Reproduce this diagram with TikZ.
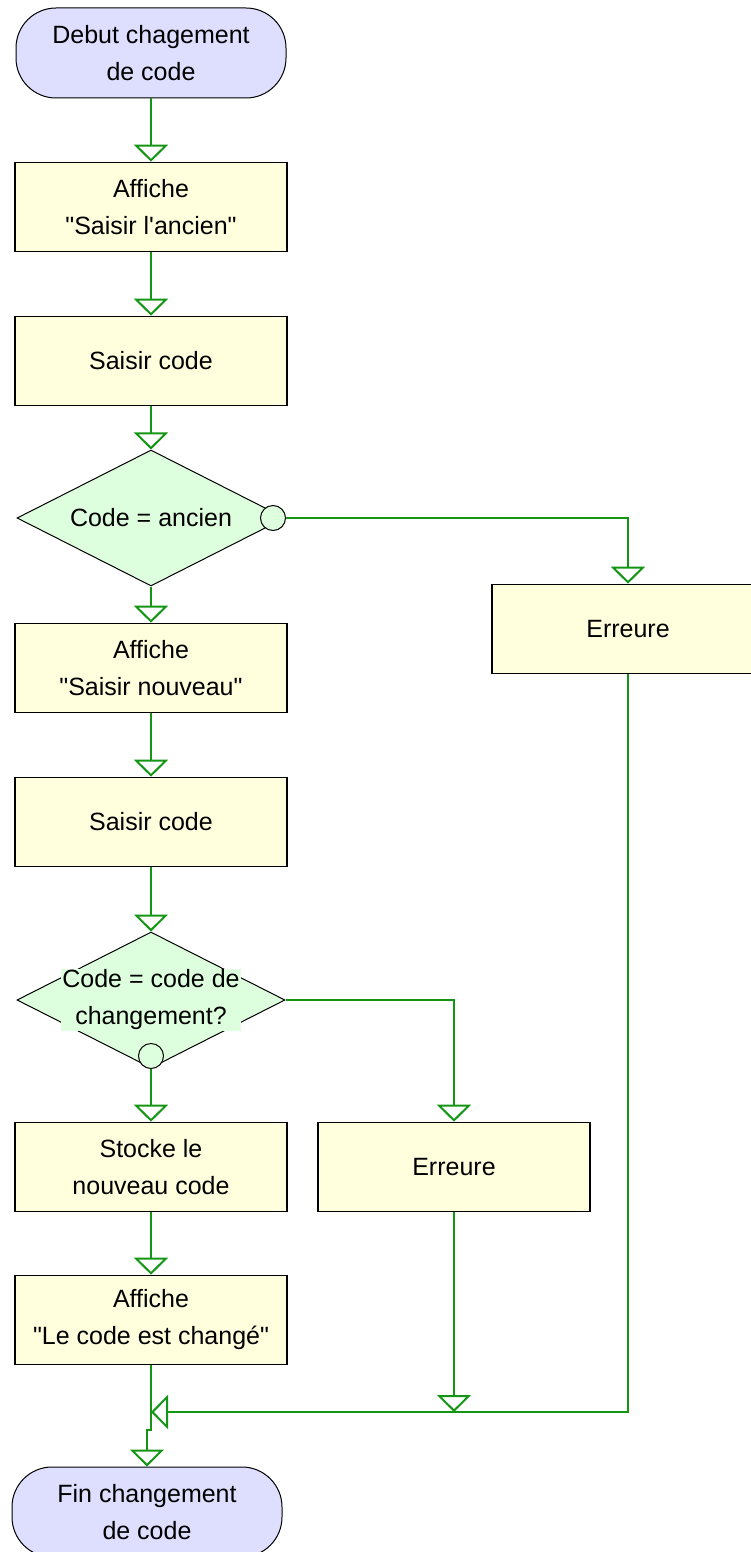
\documentclass[tikz,border=0pt]{standalone}
\usepackage{fontspec}
\newfontfamily\chartfont{Liberation Sans}
\usepackage{xcolor}
\usetikzlibrary{shapes.geometric,arrows.meta}
\definecolor{termfill}{RGB}{222,222,255}
\definecolor{procfill}{RGB}{255,255,222}
\definecolor{decfill}{RGB}{222,255,222}
\definecolor{flowgreen}{RGB}{20,150,20}
\tikzset{
  term/.style={rectangle,rounded corners=40pt,draw=black,line width=1pt,fill=termfill,minimum width=270pt,minimum height=90pt,align=center,inner sep=0pt},
  proc/.style={rectangle,draw=black,line width=1.6pt,fill=procfill,minimum width=272pt,minimum height=89pt,align=center,inner sep=0pt},
  decision/.style={diamond,draw=black,line width=1pt,fill=decfill,minimum width=268pt,minimum height=136pt,inner sep=0pt},
  dtext/.style={fill=decfill,inner sep=1pt,align=center},
  knob/.style={circle,draw=black,line width=1pt,fill=decfill,minimum size=25pt,inner sep=0pt},
  link/.style={draw=flowgreen,line width=2pt},
  flow/.style={link,-{Triangle[open,width=34pt,length=17pt]}}
}

\begin{document}
\begin{tikzpicture}[x=1pt,y=-1pt,every node/.style={font=\chartfont\fontsize{25}{37}\selectfont}]
  \useasboundingbox (0,0) rectangle (751,1552);
  \coordinate (m) at (151,1412);

  \node[term] (start) at (151,53) {Debut chagement\\de code};
  \node[proc] (a1) at (151,207) {Affiche\\"Saisir l'ancien"};
  \node[proc] (a2) at (151,361) {Saisir code};
  \node[decision] (d1) at (151,518) {};
  \node[dtext] (d1t) at (d1) {Code = ancien};
  \node[knob] (k1) at ([xshift=-12.5pt]d1.east) {};
  \node[proc] (a3) at (151,668) {Affiche\\"Saisir nouveau"};
  \node[proc] (a4) at (151,822) {Saisir code};
  \node[decision] (d2) at (151,1000) {};
  \node[dtext] (d2t) at (d2) {Code = code de\\changement?};
  \node[knob] (k2) at ([yshift=12.5pt]d2.south) {};
  \node[proc] (a5) at (151,1167) {Stocke le\\nouveau code};
  \node[proc] (a6) at (151,1320) {Affiche\\"Le code est chang\'e"};
  \node[proc] (err1) at (628,629) {Erreure};
  \node[proc] (err2) at (454,1167) {Erreure};
  \node[term] (end) at (147,1512) {Fin changement\\de code};

  \draw[flow] (start) -- (a1);
  \draw[flow] (a1) -- (a2);
  \draw[flow] (a2) -- (d1);
  \draw[flow] (d1) -- (a3);
  \draw[flow] (k1.east) -| (err1.north);
  \draw[flow] (a3) -- (a4);
  \draw[flow] (a4) -- (d2);
  \draw[flow] (k2.south) -- (a5);
  \draw[flow] (d2.east) -| (err2.north);
  \draw[flow] (a5) -- (a6);

  % merge towards the end
  \draw[link] (a6) -- (m);
  \draw[flow] (err1.south) |- (m);
  \draw[flow] (err2.south) -- (err2.south |- m);
  \draw[flow] (m) -- ++(0,18) -| (end.north);
\end{tikzpicture}
\end{document}
